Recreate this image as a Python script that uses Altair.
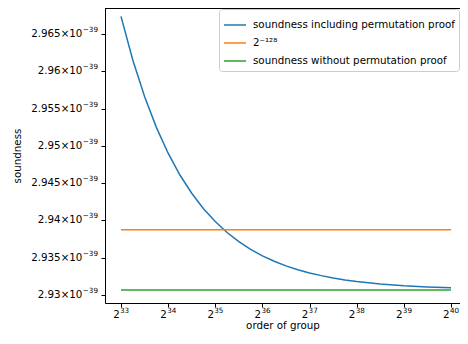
import altair as alt
import pandas as pd

# exponent k of group order 2^k
blue_x = [33, 33.25, 33.5, 33.75, 34, 34.25, 34.5, 34.75, 35, 35.25, 35.5, 35.75,
          36, 36.25, 36.5, 36.75, 37, 37.25, 37.5, 37.75, 38, 38.5, 39, 39.5, 40]
# soundness in units of 1e-39
blue_y = [2.96737, 2.96153, 2.95662, 2.95249, 2.94902, 2.94610, 2.94365, 2.94158,
          2.93985, 2.93839, 2.93716, 2.93613, 2.93526, 2.93453, 2.93391, 2.93340,
          2.93296, 2.93260, 2.93229, 2.93203, 2.93182, 2.93148, 2.93124, 2.93108, 2.93096]
flat_x = [33, 40]
orange_y = [2.93874, 2.93874]
green_y = [2.93067, 2.93067]

names = ["soundness including permutation proof", "2⁻¹²⁸", "soundness without permutation proof"]
colors = ["#1f77b4", "#ff7f0e", "#2ca02c"]
y_ticks = [2.93, 2.935, 2.94, 2.945, 2.95, 2.955, 2.96, 2.965]
y_exp = "−39"
x_ticks = [33, 34, 35, 36, 37, 38, 39, 40]

rows = []
for x, y in zip(blue_x, blue_y):
    rows.append({"k": x, "s": y, "series": names[0]})
for x, y in zip(flat_x, orange_y):
    rows.append({"k": x, "s": y, "series": names[1]})
for x, y in zip(flat_x, green_y):
    rows.append({"k": x, "s": y, "series": names[2]})
df = pd.DataFrame(rows)
ydf = pd.DataFrame({"s": y_ticks})
xdf = pd.DataFrame({"k": x_ticks})

H = 295
W = 355
FS = 10.3
SFS = 7.2
xscale = alt.Scale(domain=[32.6606, 40.1915], nice=False, zero=False)
yscale = alt.Scale(domain=[2.92893, 2.9685], nice=False, zero=False)
xaxis = alt.Axis(title="order of group", values=x_ticks, labels=False,
                 grid=False, tickSize=4, titleFontSize=FS, titlePadding=13,
                 domainColor="black", tickColor="black", titleColor="black",
                 titleFontWeight="normal")
yaxis = alt.Axis(title="soundness", values=y_ticks, labels=False,
                 grid=False, tickSize=4, titleFontSize=FS, titlePadding=78,
                 domainColor="black", tickColor="black", titleColor="black",
                 titleFontWeight="normal")

lines = alt.Chart(df).mark_line(strokeWidth=1.5, clip=True).encode(
    x=alt.X("k:Q", scale=xscale, axis=xaxis),
    y=alt.Y("s:Q", scale=yscale, axis=yaxis),
    color=alt.Color("series:N", scale=alt.Scale(domain=names, range=colors),
                    legend=alt.Legend(title=None, orient="top-right", offset=1,
                                      symbolType="stroke", symbolStrokeWidth=1.5,
                                      symbolSize=484, labelFontSize=FS,
                                      labelOffset=6, labelColor="black",
                                      fillColor="white", strokeColor="#cccccc",
                                      cornerRadius=3, padding=4, rowPadding=-5,
                                      labelLimit=400)),
)

ylab_base = alt.Chart(ydf).mark_text(align="right", baseline="middle", fontSize=FS,
                                     color="black").encode(
    x=alt.value(-22.6),
    y=alt.Y("s:Q", scale=yscale, axis=yaxis),
    text=alt.Text("label:N"),
).transform_calculate(label="format(datum.s, '.3~f') + '×10'")
ylab_sup = alt.Chart(ydf).mark_text(align="left", baseline="middle", fontSize=SFS,
                                    dy=-4, color="black").encode(
    x=alt.value(-22.2),
    y=alt.Y("s:Q", scale=yscale, axis=yaxis),
    text=alt.value(y_exp),
)

xlab_base = alt.Chart(xdf).mark_text(align="right", baseline="alphabetic", fontSize=FS,
                                     dx=-1.3, color="black").encode(
    x=alt.X("k:Q", scale=xscale, axis=xaxis),
    y=alt.value(H + 15),
    text=alt.value("2"),
)
xlab_sup = alt.Chart(xdf).mark_text(align="left", baseline="alphabetic", fontSize=SFS,
                                    dx=-1.0, color="black").encode(
    x=alt.X("k:Q", scale=xscale, axis=xaxis),
    y=alt.value(H + 10),
    text=alt.Text("k:Q", format="d"),
)

top = alt.Chart(df).mark_rule(color="black", strokeWidth=1).encode(
    x=alt.value(0), x2=alt.value(W), y=alt.value(0.5)
)

chart = alt.layer(lines, top, ylab_base, ylab_sup, xlab_base, xlab_sup).properties(
    width=W, height=H,
    autosize=alt.AutoSizeParams(type="none"),
    padding={"left": 97, "top": 0, "right": 0, "bottom": 28},
).configure_view(stroke=None).configure(font="DejaVu Sans")

chart.save("out.html", embed_options={"renderer": "svg", "actions": False})
